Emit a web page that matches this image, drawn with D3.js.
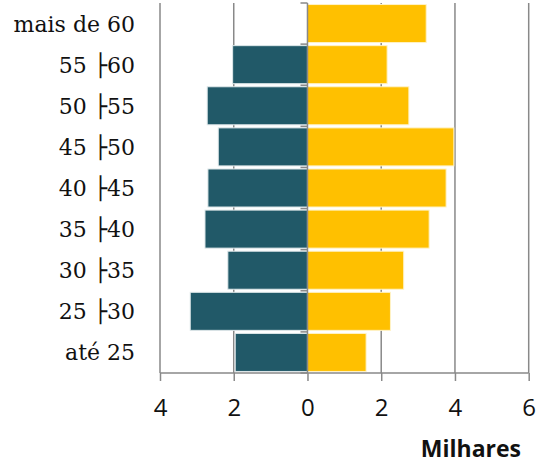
<!DOCTYPE html>
<html>
    <head>
        <script src="https://d3js.org/d3.v7.min.js"></script>
        <style>
            body { margin:0; background:white; }
            svg { width:541px; height:465px; display:block; }
            .catLabel { font-family:"DejaVu Serif", serif; font-size:22px; fill:#111; }
            .tickLabel { font-family:"Open Sans", sans-serif; font-size:24px; fill:#111; }
            .unitLabel { font-family:"Open Sans", sans-serif; font-size:23px; font-weight:bold; fill:#111; }
        </style>
    </head>
    <body>
        <svg></svg>
    </body>
    <script>
        // categories from top to bottom
        const categories = ['mais de 60', '55 ├60', '50 ├55', '45 ├50', '40 ├45',
                            '35 ├40', '30 ├35', '25 ├30', 'até 25'];
        // left side (teal), in thousands
        const leftValues = [0, 2.03, 2.72, 2.42, 2.70, 2.78, 2.16, 3.18, 1.96];
        // right side (gold), in thousands
        const rightValues = [3.22, 2.16, 2.75, 3.97, 3.76, 3.30, 2.61, 2.25, 1.59];
        const xTicks = [-4, -2, 0, 2, 4, 6];
        const unitText = 'Milhares';

        const svg = d3.select('svg');
        const gridColor = '#898989';

        const xScale = d3.scaleLinear()
                        .domain([-4, 6])
                        .range([160, 528.7]);
        const yScale = d3.scaleBand()
                        .domain(categories)
                        .range([3, 373])
                        .paddingInner(0.075)
                        .paddingOuter(0.0375);

        const plotTop = 3, plotBottom = 373;

        // vertical gridlines
        svg.append('g').selectAll('line')
            .data(xTicks.filter(t => t !== 0))
            .enter().append('line')
            .attr('x1', d => xScale(d)).attr('x2', d => xScale(d))
            .attr('y1', plotTop).attr('y2', plotBottom)
            .style('stroke', gridColor)
            .style('stroke-width', 1.5);

        const rows = categories.map((c, i) => ({ cat:c, left:leftValues[i], right:rightValues[i] }));

        // left bars
        svg.append('g').selectAll('rect')
            .data(rows.filter(d => d.left > 0))
            .enter().append('rect')
            .attr('x', d => xScale(-d.left))
            .attr('y', d => yScale(d.cat))
            .attr('width', d => xScale(0) - xScale(-d.left))
            .attr('height', yScale.bandwidth())
            .style('fill', '#215968')
            .style('stroke', '#dfe8ea')
            .style('stroke-width', 1);

        // right bars
        svg.append('g').selectAll('rect')
            .data(rows)
            .enter().append('rect')
            .attr('x', xScale(0))
            .attr('y', d => yScale(d.cat))
            .attr('width', d => xScale(d.right) - xScale(0))
            .attr('height', yScale.bandwidth())
            .style('fill', '#FFC000')
            .style('stroke', '#fff3c8')
            .style('stroke-width', 1);

        // bottom axis
        const xAxis = d3.axisBottom(xScale)
                        .tickValues(xTicks)
                        .tickSize(8)
                        .tickFormat(d => Math.abs(d));
        const gx = svg.append('g')
                    .attr('transform', `translate(0,${plotBottom})`)
                    .call(xAxis);
        gx.select('.domain').remove();
        gx.attr('font-family', null).attr('font-size', null);
        gx.selectAll('line').style('stroke', gridColor).style('stroke-width', 1.5);
        gx.selectAll('text')
            .attr('class', 'tickLabel')
            .attr('fill', null)
            .attr('y', 43)
            .attr('dy', null);
        svg.append('line')
            .attr('x1', xScale(-4)).attr('x2', xScale(6))
            .attr('y1', plotBottom).attr('y2', plotBottom)
            .style('stroke', gridColor).style('stroke-width', 1.5);

        // category axis at zero, with ticks at band boundaries
        const x0 = xScale(0);
        const boundaries = categories.map(c => yScale(c) - yScale.step() * yScale.paddingInner() / 2)
                                     .concat([plotBottom]);
        svg.append('g').selectAll('line')
            .data(boundaries)
            .enter().append('line')
            .attr('x1', x0 - 7).attr('x2', x0)
            .attr('y1', d => d).attr('y2', d => d)
            .style('stroke', gridColor).style('stroke-width', 1.5);
        svg.append('line')
            .attr('x1', x0).attr('x2', x0)
            .attr('y1', plotTop).attr('y2', plotBottom)
            .style('stroke', gridColor).style('stroke-width', 1.5);

        // category labels
        svg.append('g').selectAll('text')
            .data(categories)
            .enter().append('text')
            .attr('class', 'catLabel')
            .attr('x', 135)
            .attr('y', d => yScale(d) + yScale.bandwidth() / 2 + 8)
            .style('text-anchor', 'end')
            .text(d => d);

        // unit label
        svg.append('text')
            .attr('class', 'unitLabel')
            .attr('x', 521)
            .attr('y', 457)
            .style('text-anchor', 'end')
            .text(unitText);
    </script>
</html>
